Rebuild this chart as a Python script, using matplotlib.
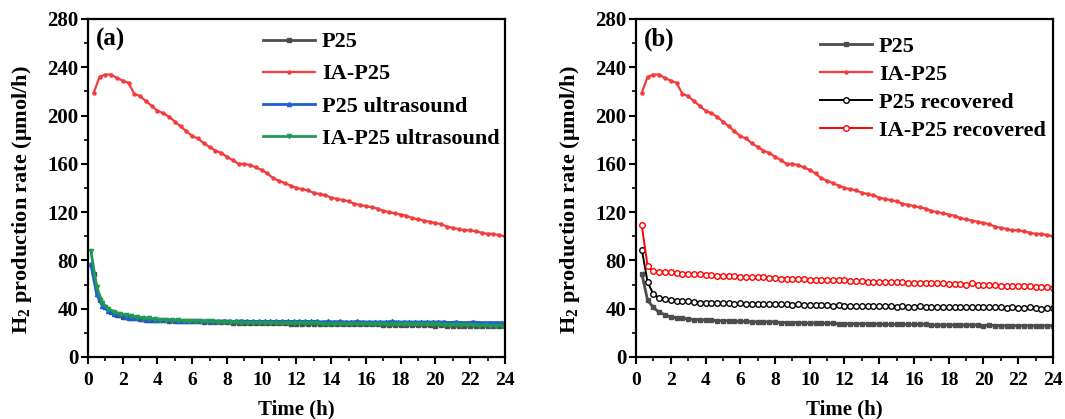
import numpy as np
import matplotlib
matplotlib.use("Agg")
import matplotlib.pyplot as plt

plt.rcParams['font.family'] = ['Liberation Serif', 'DejaVu Serif']
plt.rcParams['font.weight'] = 'bold'
plt.rcParams['mathtext.fontset'] = 'custom'
plt.rcParams['mathtext.rm'] = 'Liberation Serif:bold'
plt.rcParams['mathtext.bf'] = 'Liberation Serif:bold'
plt.rcParams['mathtext.default'] = 'bf'

# sampling every 20 min
t = np.arange(1, 73) / 3.0
t_us = t - 1 / 6.0

ia_p25 = [219, 232, 234, 234, 231, 229, 227, 218, 216, 212, 208, 204,
          202, 199, 195, 191, 187, 183, 181, 177, 174, 171, 169, 166,
          163, 160, 160, 159, 157, 155, 152, 148, 146, 144, 142, 140,
          139, 138, 136, 135, 134, 132, 131, 130, 129, 127, 126, 125,
          124, 123, 121, 120, 119, 118, 117, 115, 114, 113, 112, 111,
          110, 108, 107, 106, 105, 105, 104, 103, 102, 102, 101, 100]

p25 = [69, 47, 41, 37, 35, 33, 32.5, 32, 31.5, 31, 31, 30.5,
       30.5, 30, 30, 30, 29.5, 29.5, 29.5, 29, 29, 29, 29, 29,
       28.5, 28.5, 28.5, 28.5, 28, 28, 28, 28, 28, 28, 27.5, 27.5,
       27.5, 27.5, 27.5, 27.5, 27.5, 27, 27, 27, 27, 27, 27, 27,
       27, 27, 26.5, 26.5, 26.5, 26.5, 26.5, 26.5, 26.5, 26.5, 26.5, 26,
       26.5, 26, 26, 26, 26, 26, 26, 26, 26, 26, 26, 26]

p25_us = [77, 52, 42, 38, 36, 34.5, 33.5, 32.5, 32, 31.5, 31, 31,
          30.5, 30.5, 30.5, 30, 30, 30, 30, 30, 30, 30, 29.5, 30,
          29.5, 29.5, 30, 29.5, 29.5, 29.5, 29.5, 29.5, 29.5, 29.5, 29.5, 29.5,
          29.5, 29.5, 29.5, 29.5, 29, 29.5, 29, 29.5, 29, 29, 29.5, 29,
          29, 29, 29, 29, 29.5, 29, 29, 29, 29, 29, 29, 29,
          29, 29, 28.5, 29, 28.5, 28.5, 29, 28.5, 28.5, 28.5, 28.5, 28.5]

ia_p25_us = [88, 58, 45, 40, 37.5, 36, 35, 34, 33, 32.5, 32, 31.5,
             31, 31, 30.5, 30.5, 30, 30, 30, 29.5, 29.5, 29.5, 29, 29,
             29, 29, 28.5, 28.5, 28.5, 28.5, 28.5, 28.5, 28, 28, 28, 28,
             28, 28, 28, 28, 27.5, 27.5, 27.5, 27.5, 27.5, 27.5, 27.5, 27.5,
             27.5, 27, 27.5, 27, 27, 27, 27, 27, 27, 27, 27, 27,
             27, 26.5, 26.5, 26.5, 26.5, 26.5, 26.5, 26, 26.5, 26, 26, 26]

p25_rec = [89, 62, 52, 49, 48, 47, 46.5, 46, 46, 45.5, 45, 45,
           45, 44.5, 44.5, 44.5, 44, 44.5, 44, 44, 44, 43.5, 44, 43.5,
           43.5, 43.5, 43, 43.5, 43, 43, 43, 43, 43, 42.5, 43, 42.5,
           42.5, 42.5, 42, 42.5, 42, 42, 42, 42, 41.5, 42, 41.5, 41.5,
           42, 41.5, 41.5, 41.5, 41.5, 41, 41.5, 41, 41, 41.5, 41, 41,
           41, 41, 41, 40.5, 41, 40.5, 40.5, 41, 40.5, 40, 40.5, 40.5]

ia_p25_rec = [109, 75, 71, 70, 70, 70, 69.5, 69, 69, 68.5, 68.5, 68,
              68, 67.5, 67.5, 67, 67, 66.5, 66.5, 66, 66, 66, 65.5, 65.5,
              65, 65, 65, 64.5, 64.5, 64, 64, 64, 64, 63.5, 63.5, 63.5,
              63, 63, 63, 62.5, 62.5, 62.5, 62, 62, 62, 62, 61.5, 61.5,
              61.5, 61.5, 61, 61, 61, 60.5, 60.5, 60.5, 60, 61, 60, 59.5,
              59.5, 59.5, 59, 59, 59, 58.5, 58.5, 58.5, 58, 58, 58, 57.5]

fig = plt.figure(figsize=(10.65, 4.19), dpi=100)
ax1 = fig.add_axes([0.0826, 0.148, 0.3915, 0.8067])
ax2 = fig.add_axes([0.5972, 0.148, 0.3915, 0.8067])

ax1.plot(t, p25, color='#4d4d4d', lw=2, marker='s', ms=2.5, label='P25')
ax1.plot(t, ia_p25, color='#f43c3c', lw=1.6, marker='o', ms=2.2, label='IA-P25')
ax1.plot(t_us, p25_us, color='#1d5fd6', lw=2, marker='^', ms=3, label='P25 ultrasound')
ax1.plot(t_us, ia_p25_us, color='#1e9a55', lw=2, marker='v', ms=3, label='IA-P25 ultrasound')

ax2.plot(t, p25, color='#4d4d4d', lw=2, marker='s', ms=3, label='P25')
ax2.plot(t, ia_p25, color='#f43c3c', lw=1.6, marker='o', ms=2.2, label='IA-P25')
ax2.plot(t, p25_rec, color='black', lw=1.4, marker='o', ms=4, mfc='white', mew=1, label='P25 recovered')
ax2.plot(t, ia_p25_rec, color='#ff0000', lw=1.4, marker='o', ms=4, mfc='white', mew=1, label='IA-P25 recovered')

legend_pos = {ax1: (0.42, 0.962, 0.52), ax2: (0.441, 0.948, 0.33)}

for ax, tag in [(ax1, '(a)'), (ax2, '(b)')]:
    ax.set_xlim(0, 24)
    ax.set_ylim(0, 280)
    ax.set_xticks(np.arange(0, 25, 2))
    ax.set_xticks(np.arange(0, 25, 1), minor=True)
    ax.set_yticks(np.arange(0, 281, 40))
    ax.set_yticks(np.arange(0, 281, 20), minor=True)
    ax.tick_params(axis='both', which='major', direction='out', length=5, width=1.5)
    ax.tick_params(axis='x', which='major', labelsize=14, pad=6)
    ax.tick_params(axis='y', which='major', labelsize=15, pad=2)
    ax.tick_params(axis='both', which='minor', direction='out', length=3, width=1.2)
    for sp in ax.spines.values():
        sp.set_linewidth(1.6)
    for lbl in ax.get_xticklabels() + ax.get_yticklabels():
        lbl.set_fontweight('bold')
    ax.set_xlabel('Time (h)', fontsize=15, fontweight='bold', labelpad=7)
    ax.set_ylabel('H$_2$ production rate (μmol/h)', fontsize=16, fontweight='bold')
    ax.yaxis.set_label_coords(-0.13, 0.467)
    ax.text(0.02, 0.975, tag, transform=ax.transAxes, ha='left', va='top',
            fontsize=18, fontweight='bold')
    lx, ly, sp_ = legend_pos[ax]
    ax.legend(loc='upper left', bbox_to_anchor=(lx, ly), frameon=False,
              borderaxespad=0, borderpad=0,
              handlelength=2.35, handletextpad=0.3, labelspacing=sp_,
              prop={'size': 16, 'weight': 'bold'})

fig.savefig('out.png', dpi=100)
